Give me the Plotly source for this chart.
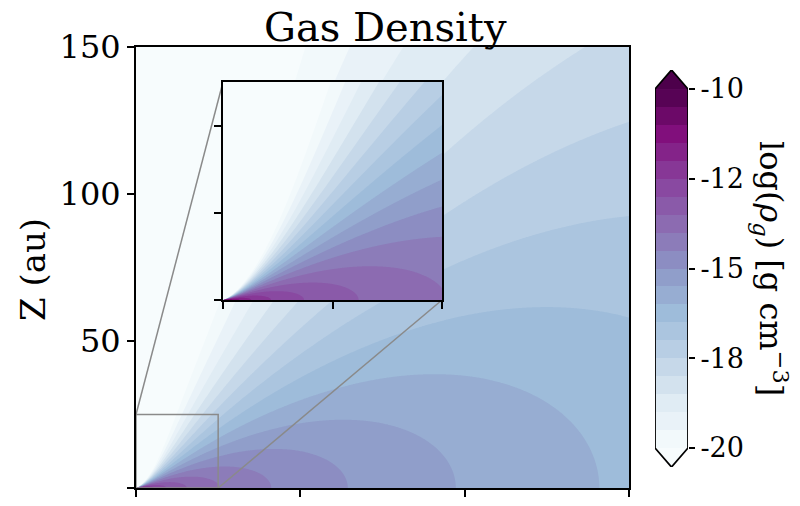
import numpy as np
import plotly.graph_objects as go

# ---- model parameters ----
LOG_RHO_1AU = -10.899   # midplane log density at r = 1 au
P_INDEX = 2.14          # radial power-law index
R_TAPER = 122.0         # exponential taper radius (au)
H100 = 0.274            # angular scale height at 100 au (rad)
Q_FLARE = 0.3           # flaring index of angular scale height
BETA_IN = 0.35          # broadening of the profile at high elevation (inner disk)
BETA_R = 45.0           # radius over which this broadening fades (au)
BETA_OUT = -0.06        # slight steepening at high elevation (outer disk)

LEVEL_START, LEVEL_END, LEVEL_STEP = -20.0, -10.0, 0.5
cbar_tickvals = [-10, -12.5, -15, -17.5, -20]
cbar_ticktext = ["-10", "-12", "-15", "-18", "-20"]
main_ticks = [0, 50, 100, 150]
main_range = [0, 150]
inset_range = [0, 25]
inset_xticks = [0, 12.5, 25]
inset_yticks = [0, 10, 20]

BUPU = [(247, 252, 253), (224, 236, 244), (191, 211, 230), (158, 188, 218),
        (140, 150, 198), (140, 107, 177), (136, 65, 157), (129, 15, 124), (77, 0, 75)]


def bupu(t):
    t = min(max(t, 0.0), 1.0) * (len(BUPU) - 1)
    i = min(int(t), len(BUPU) - 2)
    f = t - i
    c = [BUPU[i][j] + (BUPU[i + 1][j] - BUPU[i][j]) * f for j in range(3)]
    return "rgb(%d,%d,%d)" % tuple(round(v) for v in c)


def log_rho(R, Z):
    r = np.sqrt(R ** 2 + Z ** 2)
    r = np.maximum(r, 0.05)
    psi = np.arctan2(Z, R)
    f = LOG_RHO_1AU - P_INDEX * np.log10(r) - r / (R_TAPER * np.log(10))
    beta = BETA_IN * np.exp(-r / BETA_R) + BETA_OUT
    h = H100 * (r / 100.0) ** Q_FLARE * (1 + beta * psi)
    return f - psi ** 2 / (2 * h ** 2) / np.log(10)


nlev = int(round((LEVEL_END - LEVEL_START) / LEVEL_STEP))  # 20 bands
nl = nlev + 1
# plotly maps band k to t=(k+1)/nl; emulate matplotlib colours (k+0.5)/nlev
cscale = [[0.0, bupu(0.0)]]
for k in range(nlev):
    cscale.append([(k + 1) / nl, bupu((k + 0.5) / nlev)])
cscale.append([1.0, bupu(1.0)])

# domains (paper)
W, H = 800, 506
main_x = [136 / W, 629 / W]
main_y = [1 - 488 / H, 1 - 47 / H]
ins_x = [223 / W, 442 / W]
ins_y = [1 - 300 / H, 1 - 82 / H]
cb_x = [655 / W, 688 / W]
cb_y = [1 - 467 / H, 1 - 70 / H]
ARROW = 0.53

fig = go.Figure()

Rm = np.linspace(main_range[0], main_range[1], 451)
RR, ZZ = np.meshgrid(Rm, Rm)
fig.add_trace(go.Contour(x=Rm, y=Rm, z=log_rho(RR, ZZ), colorscale=cscale, showscale=False,
                         autocontour=False,
                         contours=dict(start=LEVEL_START, end=LEVEL_END, size=LEVEL_STEP,
                                       coloring="fill", showlines=False),
                         line=dict(width=0), hoverinfo="skip", xaxis="x", yaxis="y"))

# zoom rectangle & connectors
zr = inset_range[1]
GRAY = "#8a8a8a"
fig.add_trace(go.Scatter(x=[0, zr, zr, 0, 0], y=[0, 0, zr, zr, 0], mode="lines",
                         line=dict(color=GRAY, width=1.5), hoverinfo="skip",
                         xaxis="x", yaxis="y", showlegend=False))


def to_main_x(p):
    return (p - main_x[0]) / (main_x[1] - main_x[0]) * (main_range[1] - main_range[0])


def to_main_y(p):
    return (p - main_y[0]) / (main_y[1] - main_y[0]) * (main_range[1] - main_range[0])


fig.add_trace(go.Scatter(x=[0, to_main_x(ins_x[0])], y=[zr, to_main_y(ins_y[1])], mode="lines",
                         line=dict(color=GRAY, width=1.5), hoverinfo="skip",
                         xaxis="x", yaxis="y", showlegend=False))
fig.add_trace(go.Scatter(x=[zr, to_main_x(ins_x[1])], y=[0, to_main_y(ins_y[0])], mode="lines",
                         line=dict(color=GRAY, width=1.5), hoverinfo="skip",
                         xaxis="x", yaxis="y", showlegend=False))

Ri = np.linspace(inset_range[0], inset_range[1], 351)
RI, ZI = np.meshgrid(Ri, Ri)
fig.add_trace(go.Contour(x=Ri, y=Ri, z=log_rho(RI, ZI), colorscale=cscale, showscale=False,
                         autocontour=False,
                         contours=dict(start=LEVEL_START, end=LEVEL_END, size=LEVEL_STEP,
                                       coloring="fill", showlines=False),
                         line=dict(width=0), hoverinfo="skip", xaxis="x2", yaxis="y2"))

# colorbar
edges = [LEVEL_START + LEVEL_STEP * k for k in range(nlev + 1)]
cb_scale = [[k / (nlev - 1), bupu((k + 0.5) / nlev)] for k in range(nlev)]
fig.add_trace(go.Heatmap(x=[0, 1], y=edges, z=[[k] for k in range(nlev)], colorscale=cb_scale,
                         zmin=0, zmax=nlev - 1, showscale=False, hoverinfo="skip",
                         xaxis="x3", yaxis="y3"))
fig.add_trace(go.Scatter(x=[0, 1, 0.5, 0], y=[LEVEL_START, LEVEL_START, LEVEL_START - ARROW, LEVEL_START],
                         fill="toself", fillcolor=bupu(0.0), mode="none", hoverinfo="skip",
                         xaxis="x3", yaxis="y3", showlegend=False))
fig.add_trace(go.Scatter(x=[0, 1, 0.5, 0], y=[LEVEL_END, LEVEL_END, LEVEL_END + ARROW, LEVEL_END],
                         fill="toself", fillcolor=bupu(1.0), mode="none", hoverinfo="skip",
                         xaxis="x3", yaxis="y3", showlegend=False))
fig.add_trace(go.Scatter(x=[0, 0, 0.5, 1, 1, 0.5, 0],
                         y=[LEVEL_START, LEVEL_END, LEVEL_END + ARROW, LEVEL_END, LEVEL_START,
                            LEVEL_START - ARROW, LEVEL_START],
                         mode="lines", line=dict(color="black", width=1.8), hoverinfo="skip",
                         cliponaxis=False, xaxis="x3", yaxis="y3", showlegend=False))

FONT = "DejaVu Serif"
axis_common = dict(showline=True, linecolor="black", linewidth=2, mirror=True, ticks="outside",
                   ticklen=7, tickwidth=2, tickcolor="black", showgrid=False, zeroline=False,
                   automargin=False)

fig.update_layout(
    width=W, height=H, autosize=False,
    margin=dict(l=0, r=0, t=0, b=0, pad=0, autoexpand=False),
    paper_bgcolor="white", plot_bgcolor="white", showlegend=False,
    font=dict(family=FONT, color="black"),
    xaxis=dict(domain=main_x, range=main_range, tickvals=main_ticks, showticklabels=False,
               anchor="y", **axis_common),
    yaxis=dict(domain=main_y, range=main_range, tickvals=main_ticks, anchor="x",
               tickfont=dict(family=FONT, size=32), **axis_common),
    xaxis2=dict(domain=ins_x, range=inset_range, tickvals=inset_xticks, showticklabels=False,
                anchor="y2", **axis_common),
    yaxis2=dict(domain=ins_y, range=inset_range, tickvals=inset_yticks, showticklabels=False,
                anchor="x2", **axis_common),
    xaxis3=dict(domain=cb_x, range=[0, 1], visible=False, anchor="y3", fixedrange=True,
                automargin=False),
    yaxis3=dict(domain=cb_y, range=[LEVEL_START - ARROW, LEVEL_END + ARROW], anchor="x3",
                side="right", tickvals=cbar_tickvals, ticktext=cbar_ticktext,
                ticks="outside", ticklen=6, tickwidth=2, tickcolor="black",
                showline=False, showgrid=False, zeroline=False, automargin=False,
                tickfont=dict(family=FONT, size=27)),
    annotations=[
        dict(text="Gas Density", x=385 / W, y=1 - 27 / H, xref="paper", yref="paper",
             showarrow=False, xanchor="center", yanchor="middle",
             font=dict(family=FONT, size=40)),
        dict(text="Z (au)", x=33 / W, y=1 - 270 / H, xref="paper", yref="paper",
             showarrow=False, textangle=-90, xanchor="center", yanchor="middle",
             font=dict(family=FONT, size=34)),
        dict(text="log(<i>ρ</i><sub><i>g</i></sub>) [g cm<sup>−3</sup>]", x=771 / W, y=1 - 268 / H,
             xref="paper", yref="paper", showarrow=False, textangle=90,
             xanchor="center", yanchor="middle", font=dict(family=FONT, size=32)),
    ],
)

fig.write_html("out.html")
